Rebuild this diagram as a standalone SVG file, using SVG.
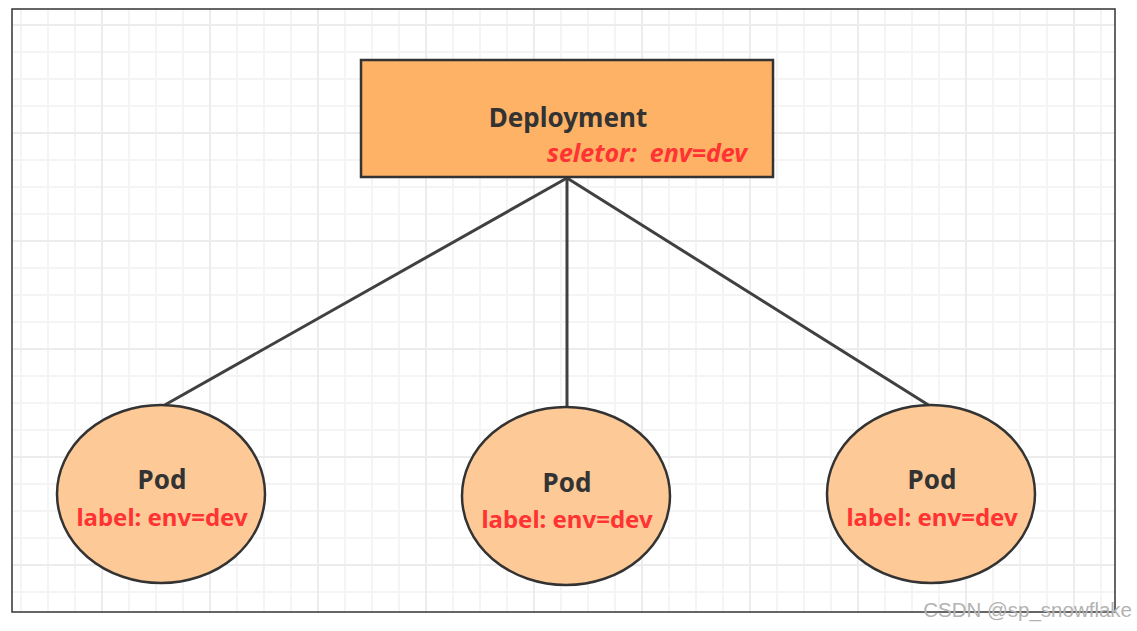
<svg xmlns="http://www.w3.org/2000/svg" width="1137" height="631" viewBox="0 0 1137 631">
  <defs>
    <pattern id="minor" x="20" y="24" width="27" height="27" patternUnits="userSpaceOnUse">
      <path d="M1 0V27M0 1H27" fill="none" stroke="#f4f4f4" stroke-width="2"/>
    </pattern>
    <pattern id="major" x="101" y="24" width="108" height="108" patternUnits="userSpaceOnUse">
      <path d="M1 0V108M0 1H108" fill="none" stroke="#ececec" stroke-width="2"/>
    </pattern>
  </defs>
  <style>
    .pod { fill: #fdc996; stroke: #333333; stroke-width: 2.5; }
    .title { font-family: "Noto Sans", "Open Sans", sans-serif; font-weight: bold; fill: #333333; text-anchor: middle; }
    .lbl { font-family: "Noto Sans", "Open Sans", sans-serif; font-weight: bold; fill: #ff3333; text-anchor: middle; }
    .conn { stroke: #404040; stroke-width: 3; fill: none; }
  </style>
  <rect x="0" y="0" width="1137" height="631" fill="#ffffff"/>
  <g id="background">
    <rect x="12" y="9" width="1103" height="603" fill="url(#minor)"/>
    <rect x="12" y="9" width="1103" height="603" fill="url(#major)"/>
    <rect x="12" y="9" width="1103" height="603" fill="none" stroke="#333333" stroke-width="1.5"/>
  </g>
  <g id="connectors">
    <line class="conn" x1="567" y1="178" x2="163" y2="406"/>
    <line class="conn" x1="567" y1="178" x2="567" y2="408"/>
    <line class="conn" x1="567" y1="178" x2="930" y2="406"/>
  </g>
  <g id="deployment">
    <rect x="361" y="60" width="412" height="117" fill="#fdb266" stroke="#333333" stroke-width="2.5"/>
    <text class="title" x="568" y="127" font-size="26">Deployment</text>
    <text x="547" y="162" font-size="25" font-style="italic" font-family="Noto Sans, Open Sans, sans-serif" font-weight="bold" fill="#ff3333" xml:space="preserve">seletor:  env=dev</text>
  </g>
  <g id="pod1">
    <ellipse class="pod" cx="161" cy="494" rx="104" ry="89"/>
    <text class="title" x="162" y="489" font-size="26">Pod</text>
    <text class="lbl" x="162" y="526" font-size="24">label: env=dev</text>
  </g>
  <g id="pod2">
    <ellipse class="pod" cx="566" cy="496" rx="104" ry="89"/>
    <text class="title" x="567" y="492" font-size="26">Pod</text>
    <text class="lbl" x="567" y="528" font-size="24">label: env=dev</text>
  </g>
  <g id="pod3">
    <ellipse class="pod" cx="931" cy="494" rx="104" ry="89"/>
    <text class="title" x="932" y="489" font-size="26">Pod</text>
    <text class="lbl" x="932" y="526" font-size="24">label: env=dev</text>
  </g>
  <text x="1132" y="617" font-family="Liberation Sans, Arial, sans-serif" font-size="20.5" fill="#b3b3b3" text-anchor="end">CSDN @sp_snowflake</text>
</svg>
